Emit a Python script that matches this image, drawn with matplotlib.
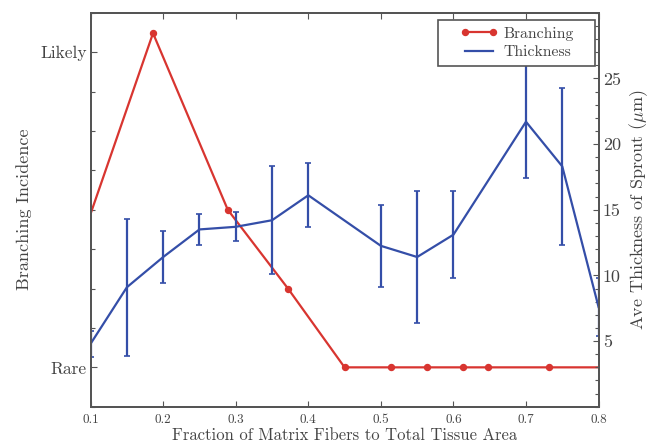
import matplotlib
matplotlib.use("Agg")
import matplotlib.pyplot as plt
from matplotlib.patches import Rectangle
from matplotlib.ticker import MultipleLocator

plt.rcParams["font.family"] = "serif"
plt.rcParams["font.serif"] = ["cmr10", "DejaVu Serif"]
plt.rcParams["mathtext.fontset"] = "cm"
plt.rcParams["axes.formatter.use_mathtext"] = True

# Branching incidence (0 = Rare, 8 = Likely)
branch_x = [0.10, 0.186, 0.289, 0.372, 0.450, 0.514, 0.564, 0.613, 0.647, 0.732, 0.80]
branch_y = [3.9, 8.48, 4.0, 2.0, 0.0, 0.0, 0.0, 0.0, 0.0, 0.0, 0.0]
branch_marked = [1, 2, 3, 4, 5, 6, 7, 8, 9]

# Average sprout thickness (um) with error bars
thick_x = [0.10, 0.15, 0.20, 0.25, 0.30, 0.35, 0.40, 0.50, 0.55, 0.60, 0.70, 0.75, 0.80]
thick_y = [4.8, 9.1, 11.4, 13.5, 13.7, 14.2, 16.1, 12.25, 11.4, 13.1, 21.7, 18.3, 7.6]
thick_err = [1.0, 5.2, 2.0, 1.2, 1.1, 4.1, 2.45, 3.1, 5.0, 3.3, 4.3, 6.0, 2.2]

x_ticks = [0.1, 0.2, 0.3, 0.4, 0.5, 0.6, 0.7, 0.8]
branch_levels = [0, 8]
branch_labels = ["Rare", "Likely"]
thick_ticks = [5, 10, 15, 20, 25]

RED = "#d83530"
BLUE = "#344ea8"
GREY = "#555555"
TEXT = "#444444"

fig = plt.figure(figsize=(6.52, 4.46), dpi=100)
ax = fig.add_axes([0.139, 0.088, 0.779, 0.8835])
ax2 = ax.twinx()

l1, = ax.plot(branch_x, branch_y, color=RED, lw=1.6, marker="o", ms=4.3,
              markevery=branch_marked, mec=RED, mfc=RED, label="Branching")

eb = ax2.errorbar(thick_x, thick_y, yerr=thick_err, color=BLUE, lw=1.6,
                  elinewidth=1.6, capsize=2.5, capthick=1.2, label="Thickness")

ax.set_xlim(0.1, 0.8)
ax.set_ylim(-1, 9)
ax2.set_ylim(0, 30)

ax.set_xticks(x_ticks)
ax.set_xticklabels([f"{v:.1f}" for v in x_ticks], fontsize=9.5, color=TEXT)
ax.set_yticks(branch_levels)
ax.set_yticklabels(branch_labels, fontsize=12.5, color=TEXT)
ax.yaxis.set_minor_locator(MultipleLocator(1))

ax2.set_yticks(thick_ticks)
ax2.set_yticklabels([str(v) for v in thick_ticks], fontsize=13, color=TEXT)
ax2.yaxis.set_minor_locator(MultipleLocator(1))

for a in (ax, ax2):
    a.tick_params(which="both", direction="in", color=GREY, width=0.8)
    a.tick_params(which="major", length=4)
    a.tick_params(which="minor", length=3)
    for s in a.spines.values():
        s.set_color(GREY)
        s.set_linewidth(1.4)
ax.tick_params(axis="x", top=True, pad=5)
ax.tick_params(axis="y", right=False, which="both", pad=3)
ax2.tick_params(axis="y", pad=3)

ax.set_xlabel("Fraction of Matrix Fibers to Total Tissue Area", fontsize=12,
              color=TEXT, labelpad=1)
ax.set_ylabel("Branching Incidence", fontsize=13, color=TEXT, labelpad=6)
ax2.set_ylabel(r"Ave Thickness of Sprout ($\mu$m)", fontsize=13, color=TEXT,
               labelpad=5)

# legend box, drawn as its own frame so the entries sit with wide margins
ax2.add_patch(Rectangle((0.684, 0.866), 0.309, 0.115, transform=ax2.transAxes,
                        facecolor="white", edgecolor=GREY, linewidth=1.2,
                        zorder=9, clip_on=False))
leg = ax2.legend([l1, eb.lines[0]], ["Branching", "Thickness"], loc="upper left",
                 fontsize=11.3, numpoints=2, frameon=False, borderpad=0,
                 borderaxespad=0, labelspacing=0.3, handlelength=2.4,
                 handletextpad=0.4, bbox_to_anchor=(0.727, 0.965))
leg.set_zorder(10)
for t in leg.get_texts():
    t.set_color(TEXT)

fig.savefig("out.png", dpi=100)
